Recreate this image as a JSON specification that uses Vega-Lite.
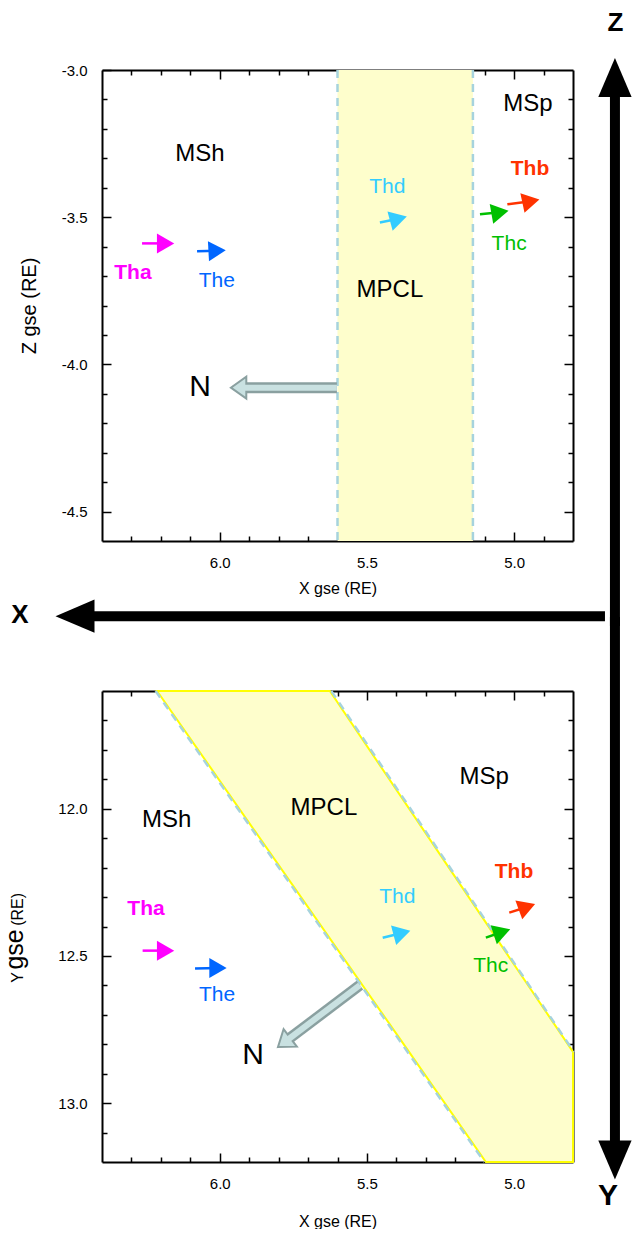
{
"$schema":"https://vega.github.io/schema/vega-lite/v6.json",
"background":"white",
"padding":{"left":3,"top":10,"right":0,"bottom":0},
"config":{"view":{"stroke":null},"font":"Liberation Sans","text":{"font":"Liberation Sans"},
 "axis":{"domainColor":"black","domainWidth":2,"tickColor":"black","tickWidth":1.5,"labelColor":"black","labelFont":"Liberation Sans","labelFontSize":15,"titleFont":"Liberation Sans","titleFontWeight":"normal","titleColor":"black","grid":false,"zindex":1}},
"datasets":{
 "bandTop":[{"x":5.6,"x2":5.14,"y":-3.0,"y2":-4.6}],
 "regionsTop":[{"x":6.067,"y":-3.286,"t":"MSh"},{"x":4.953,"y":-3.116,"t":"MSp"},{"x":5.422,"y":-3.749,"t":"MPCL"}],
 "nTop":[{"x":5.602,"y":-4.079,"x2":5.936,"y2":-4.079,"ang":180}],
 "nLabTop":[{"x":6.067,"y":-4.078,"t":"N"}],
 "scTop":[
  {"sc":"Tha","x":6.264,"y":-3.589,"x2":6.184,"y2":-3.589,"ang":0},
  {"sc":"The","x":6.077,"y":-3.616,"x2":6.009,"y2":-3.614,"ang":-3},
  {"sc":"Thd","x":5.456,"y":-3.518,"x2":5.393,"y2":-3.5055,"ang":-15},
  {"sc":"Thc","x":5.116,"y":-3.49,"x2":5.048,"y2":-3.4834,"ang":-10},
  {"sc":"Thb","x":5.023,"y":-3.456,"x2":4.943,"y2":-3.446,"ang":-12}],
 "scLabTop":[{"sc":"The","x":6.01,"y":-3.718,"t":"The"},{"sc":"Thd","x":5.431,"y":-3.397,"t":"Thd"},{"sc":"Thc","x":5.017,"y":-3.592,"t":"Thc"}],
 "scLabTopBold":[{"sc":"Tha","x":6.295,"y":-3.688,"t":"Tha"},{"sc":"Thb","x":4.946,"y":-3.335,"t":"Thb"}],
 "bigTop":[{"x":4.6575,"y":-3.0255,"x2":4.6575,"y2":-4.889},{"x":4.6914,"y":-4.8553,"x2":6.4917,"y2":-4.8553}],
 "bigHeadTop":[{"x":4.6575,"y":-3.0255,"dir":"up"},{"x":6.4917,"y":-4.8553,"dir":"left"}],
 "bigLabTop":[{"x":4.6558,"y":-2.8417,"t":"Z"},{"x":6.6785,"y":-4.852,"t":"X"}],
 "polyBot":[{"y":11.6,"x":6.213,"x2":5.626},{"y":12.826,"x":5.357,"x2":4.8},{"y":13.2,"x":5.096,"x2":4.8}],
 "edgesBot":[{"x":6.218,"y":11.6,"x2":5.101,"y2":13.2},{"x":5.621,"y":11.6,"x2":4.797,"y2":12.826}],
 "regionsBot":[{"x":6.18,"y":12.039,"t":"MSh"},{"x":5.1014,"y":11.892,"t":"MSp"},{"x":5.646,"y":11.996,"t":"MPCL"}],
 "nBot":[{"x":5.524,"y":12.599,"x2":5.7815,"y2":12.794,"ang":143}],
 "nLabBot":[{"x":5.887,"y":12.836,"t":"N"}],
 "scBot":[
  {"sc":"Tha","x":6.262,"y":12.482,"x2":6.184,"y2":12.482,"ang":0},
  {"sc":"The","x":6.084,"y":12.543,"x2":6.006,"y2":12.541,"ang":0},
  {"sc":"Thd","x":5.4465,"y":12.438,"x2":5.381,"y2":12.422,"ang":-15},
  {"sc":"Thc","x":5.096,"y":12.438,"x2":5.0413,"y2":12.4186,"ang":-18},
  {"sc":"Thb","x":5.0165,"y":12.353,"x2":4.9564,"y2":12.3337,"ang":-20}],
 "scLabBot":[{"sc":"The","x":6.009,"y":12.633,"t":"The"},{"sc":"Thd","x":5.397,"y":12.3,"t":"Thd"},{"sc":"Thc","x":5.0797,"y":12.534,"t":"Thc"}],
 "scLabBotBold":[{"sc":"Tha","x":6.2505,"y":12.3405,"t":"Tha"},{"sc":"Thb","x":5.0005,"y":12.215,"t":"Thb"}],
 "bigBot":[{"x":4.6575,"y":11.349,"x2":4.6575,"y2":13.193}],
 "bigHeadBot":[{"x":4.6575,"y":13.193,"dir":"down"}],
 "bigLabBot":[{"x":4.6813,"y":13.315,"t":"Y"}],
 "yTitleSmall":[{"x":6.6683,"y":12.5732,"t":"Y"},{"x":6.6683,"y":12.342,"t":"(RE)"}],
 "yTitleBig":[{"x":6.6683,"y":12.478,"t":"gse"}]
},
"spacing":150,
"bounds":"flush",
"vconcat":[
{
 "width":471,"height":471,
 "resolve":{"axis":{"x":"independent","y":"independent"}},
 "layer":[
  {"data":{"name":"bandTop"},"mark":{"type":"rect","color":"#fefecc"},
   "encoding":{
    "x":{"field":"x","type":"quantitative","scale":{"domain":[4.8,6.4],"reverse":true,"nice":false,"zero":false},
      "axis":{"orient":"bottom","values":[6.0,5.5,5.0],"format":".1f","tickSize":-9,"labelPadding":23,"title":"X gse (RE)","titleFontSize":16,"titlePadding":10}},
    "x2":{"field":"x2"},
    "y":{"field":"y","type":"quantitative","scale":{"domain":[-4.6,-3.0],"nice":false,"zero":false},
      "axis":{"orient":"left","values":[-3.0,-3.5,-4.0,-4.5],"labelExpr":"replace(format(datum.value,'.1f'),'−','-')","tickSize":-9,"labelPadding":24,"title":"Z gse (RE)","titleFontSize":20,"titlePadding":22}},
    "y2":{"field":"y2"}}},
  {"data":{"name":"bandTop"},"mark":{"type":"rule","color":"#a6d3dd","strokeWidth":2.5,"strokeDash":[8,6]},
   "encoding":{
    "x":{"field":"x","type":"quantitative","scale":{"domain":[4.8,6.4],"reverse":true,"nice":false,"zero":false},
      "axis":{"orient":"bottom","values":[6.3,6.2,6.1,5.9,5.8,5.7,5.6,5.4,5.3,5.2,5.1,4.9],"tickSize":-5,"labels":false,"domain":false,"title":null}},
    "y":{"field":"y","type":"quantitative","scale":{"domain":[-4.6,-3.0],"nice":false,"zero":false},
      "axis":{"orient":"left","values":[-3.1,-3.2,-3.3,-3.4,-3.6,-3.7,-3.8,-3.9,-4.1,-4.2,-4.3,-4.4],"tickSize":-5,"labels":false,"domain":false,"title":null}},
    "y2":{"field":"y2"}}},
  {"data":{"name":"bandTop"},"mark":{"type":"rule","color":"#a6d3dd","strokeWidth":2.5,"strokeDash":[8,6]},
   "encoding":{
    "x":{"field":"x2","type":"quantitative","scale":{"domain":[4.8,6.4],"reverse":true,"nice":false,"zero":false},
      "axis":{"orient":"top","values":[6.0,5.5,5.0],"tickSize":-9,"labels":false,"title":null}},
    "y":{"field":"y","type":"quantitative","scale":{"domain":[-4.6,-3.0],"nice":false,"zero":false},
      "axis":{"orient":"right","values":[-3.5,-4.0,-4.5],"tickSize":-9,"labels":false,"title":null}},
    "y2":{"field":"y2"}}},
  {"data":{"name":"regionsTop"},"mark":{"type":"text","fontSize":24,"color":"black","align":"center","baseline":"middle"},
   "encoding":{
    "x":{"field":"x","type":"quantitative","scale":{"domain":[4.8,6.4],"reverse":true,"nice":false,"zero":false},
      "axis":{"orient":"top","values":[6.3,6.2,6.1,5.9,5.8,5.7,5.6,5.4,5.3,5.2,5.1,4.9],"tickSize":-5,"labels":false,"domain":false,"title":null}},
    "y":{"field":"y","type":"quantitative","scale":{"domain":[-4.6,-3.0],"nice":false,"zero":false},
      "axis":{"orient":"right","values":[-3.1,-3.2,-3.3,-3.4,-3.6,-3.7,-3.8,-3.9,-4.1,-4.2,-4.3,-4.4],"tickSize":-5,"labels":false,"domain":false,"title":null}},
    "text":{"field":"t"}}},
  {"data":{"name":"nTop"},"mark":{"type":"rule","color":"#8aa0a0","strokeWidth":11},
   "encoding":{"x":{"field":"x","type":"quantitative","axis":null},"y":{"field":"y","type":"quantitative","axis":null},"x2":{"field":"x2"},"y2":{"field":"y2"}}},
  {"data":{"name":"nTop"},"mark":{"type":"point","shape":"M0.7,0L-0.7,-1L-0.7,1Z","size":484,"filled":true,"fill":"#c9e1e1","stroke":"#8aa0a0","strokeWidth":2,"opacity":1},
   "encoding":{"x":{"field":"x2","type":"quantitative","axis":null},"y":{"field":"y2","type":"quantitative","axis":null},"angle":{"field":"ang","type":"quantitative","scale":null}}},
  {"data":{"name":"nTop"},"mark":{"type":"rule","color":"#c9e1e1","strokeWidth":6},
   "encoding":{"x":{"field":"x","type":"quantitative","axis":null},"y":{"field":"y","type":"quantitative","axis":null},"x2":{"field":"x2"},"y2":{"field":"y2"}}},
  {"data":{"name":"nLabTop"},"mark":{"type":"text","fontSize":30,"color":"black","align":"center","baseline":"middle"},
   "encoding":{"x":{"field":"x","type":"quantitative","axis":null},"y":{"field":"y","type":"quantitative","axis":null},"text":{"field":"t"}}},
  {"data":{"name":"scTop"},"mark":{"type":"rule","strokeWidth":2.5},
   "encoding":{"x":{"field":"x","type":"quantitative","axis":null},"y":{"field":"y","type":"quantitative","axis":null},"x2":{"field":"x2"},"y2":{"field":"y2"},
    "color":{"field":"sc","type":"nominal","scale":{"domain":["Tha","Thb","Thc","Thd","The"],"range":["#ff00ff","#ff3300","#00c000","#33ccff","#0066ff"]},"legend":null}}},
  {"data":{"name":"scTop"},"mark":{"type":"point","shape":"triangle-right","size":400,"filled":true,"opacity":1},
   "encoding":{"x":{"field":"x2","type":"quantitative","axis":null},"y":{"field":"y2","type":"quantitative","axis":null},"angle":{"field":"ang","type":"quantitative","scale":null},
    "color":{"field":"sc","type":"nominal","scale":{"domain":["Tha","Thb","Thc","Thd","The"],"range":["#ff00ff","#ff3300","#00c000","#33ccff","#0066ff"]},"legend":null}}},
  {"data":{"name":"scLabTop"},"mark":{"type":"text","fontSize":21,"align":"center","baseline":"middle"},
   "encoding":{"x":{"field":"x","type":"quantitative","axis":null},"y":{"field":"y","type":"quantitative","axis":null},"text":{"field":"t"},
    "color":{"field":"sc","type":"nominal","scale":{"domain":["Tha","Thb","Thc","Thd","The"],"range":["#ff00ff","#ff3300","#00c000","#33ccff","#0066ff"]},"legend":null}}},
  {"data":{"name":"scLabTopBold"},"mark":{"type":"text","fontSize":21,"fontWeight":"bold","align":"center","baseline":"middle"},
   "encoding":{"x":{"field":"x","type":"quantitative","axis":null},"y":{"field":"y","type":"quantitative","axis":null},"text":{"field":"t"},
    "color":{"field":"sc","type":"nominal","scale":{"domain":["Tha","Thb","Thc","Thd","The"],"range":["#ff00ff","#ff3300","#00c000","#33ccff","#0066ff"]},"legend":null}}},
  {"data":{"name":"bigTop"},"mark":{"type":"rule","color":"black","strokeWidth":10},
   "encoding":{"x":{"field":"x","type":"quantitative","axis":null},"y":{"field":"y","type":"quantitative","axis":null},"x2":{"field":"x2"},"y2":{"field":"y2"}}},
  {"data":{"name":"bigHeadTop"},"mark":{"type":"point","filled":true,"size":1521,"color":"black","opacity":1},
   "encoding":{"x":{"field":"x","type":"quantitative","axis":null},"y":{"field":"y","type":"quantitative","axis":null},
    "shape":{"field":"dir","type":"nominal","scale":{"domain":["up","down","left"],"range":["M0,-1L0.854,1L-0.854,1Z","M0,1L0.854,-1L-0.854,-1Z","M-1,0L1,-0.854L1,0.854Z"]},"legend":null}}},
  {"data":{"name":"bigLabTop"},"mark":{"type":"text","fontSize":26,"fontWeight":"bold","color":"black","align":"center","baseline":"middle"},
   "encoding":{"x":{"field":"x","type":"quantitative","axis":null},"y":{"field":"y","type":"quantitative","axis":null},"text":{"field":"t"}}}
 ]
},
{
 "width":471,"height":471,
 "resolve":{"axis":{"x":"independent","y":"independent"}},
 "layer":[
  {"data":{"name":"polyBot"},"mark":{"type":"area","orient":"horizontal","color":"#fefecc","stroke":"#ffff00","strokeWidth":2},
   "encoding":{
    "x":{"field":"x","type":"quantitative","scale":{"domain":[4.8,6.4],"reverse":true,"nice":false,"zero":false},
      "axis":{"orient":"bottom","values":[6.0,5.5,5.0],"format":".1f","tickSize":-9,"labelPadding":23,"title":"X gse (RE)","titleFontSize":16,"titlePadding":22}},
    "x2":{"field":"x2"},
    "y":{"field":"y","type":"quantitative","scale":{"domain":[11.6,13.2],"reverse":true,"nice":false,"zero":false},
      "axis":{"orient":"left","values":[12.0,12.5,13.0],"format":".1f","tickSize":-9,"labelPadding":24,"title":null}}}},
  {"data":{"name":"edgesBot"},"mark":{"type":"rule","color":"#a6d3dd","strokeWidth":2.5,"strokeDash":[8,6]},
   "encoding":{
    "x":{"field":"x","type":"quantitative","scale":{"domain":[4.8,6.4],"reverse":true,"nice":false,"zero":false},
      "axis":{"orient":"bottom","values":[6.3,6.2,6.1,5.9,5.8,5.7,5.6,5.4,5.3,5.2,5.1,4.9],"tickSize":-5,"labels":false,"domain":false,"title":null}},
    "y":{"field":"y","type":"quantitative","scale":{"domain":[11.6,13.2],"reverse":true,"nice":false,"zero":false},
      "axis":{"orient":"left","values":[11.7,11.8,11.9,12.1,12.2,12.3,12.4,12.6,12.7,12.8,12.9,13.1],"tickSize":-5,"labels":false,"domain":false,"title":null}},
    "x2":{"field":"x2"},"y2":{"field":"y2"}}},
  {"data":{"name":"regionsBot"},"mark":{"type":"text","fontSize":24,"color":"black","align":"center","baseline":"middle"},
   "encoding":{
    "x":{"field":"x","type":"quantitative","scale":{"domain":[4.8,6.4],"reverse":true,"nice":false,"zero":false},
      "axis":{"orient":"top","values":[6.0,5.5,5.0],"tickSize":-9,"labels":false,"title":null}},
    "y":{"field":"y","type":"quantitative","scale":{"domain":[11.6,13.2],"reverse":true,"nice":false,"zero":false},
      "axis":{"orient":"right","values":[12.0,12.5,13.0],"tickSize":-9,"labels":false,"title":null}},
    "text":{"field":"t"}}},
  {"data":{"name":"scBot"},"mark":{"type":"rule","strokeWidth":2.5},
   "encoding":{
    "x":{"field":"x","type":"quantitative","scale":{"domain":[4.8,6.4],"reverse":true,"nice":false,"zero":false},
      "axis":{"orient":"top","values":[6.3,6.2,6.1,5.9,5.8,5.7,5.6,5.4,5.3,5.2,5.1,4.9],"tickSize":-5,"labels":false,"domain":false,"title":null}},
    "y":{"field":"y","type":"quantitative","scale":{"domain":[11.6,13.2],"reverse":true,"nice":false,"zero":false},
      "axis":{"orient":"right","values":[11.7,11.8,11.9,12.1,12.2,12.3,12.4,12.6,12.7,12.8,12.9,13.1],"tickSize":-5,"labels":false,"domain":false,"title":null}},
    "x2":{"field":"x2"},"y2":{"field":"y2"},
    "color":{"field":"sc","type":"nominal","scale":{"domain":["Tha","Thb","Thc","Thd","The"],"range":["#ff00ff","#ff3300","#00c000","#33ccff","#0066ff"]},"legend":null}}},
  {"data":{"name":"scBot"},"mark":{"type":"point","shape":"triangle-right","size":400,"filled":true,"opacity":1},
   "encoding":{"x":{"field":"x2","type":"quantitative","axis":null},"y":{"field":"y2","type":"quantitative","axis":null},"angle":{"field":"ang","type":"quantitative","scale":null},
    "color":{"field":"sc","type":"nominal","scale":{"domain":["Tha","Thb","Thc","Thd","The"],"range":["#ff00ff","#ff3300","#00c000","#33ccff","#0066ff"]},"legend":null}}},
  {"data":{"name":"scLabBot"},"mark":{"type":"text","fontSize":21,"align":"center","baseline":"middle"},
   "encoding":{"x":{"field":"x","type":"quantitative","axis":null},"y":{"field":"y","type":"quantitative","axis":null},"text":{"field":"t"},
    "color":{"field":"sc","type":"nominal","scale":{"domain":["Tha","Thb","Thc","Thd","The"],"range":["#ff00ff","#ff3300","#00c000","#33ccff","#0066ff"]},"legend":null}}},
  {"data":{"name":"scLabBotBold"},"mark":{"type":"text","fontSize":21,"fontWeight":"bold","align":"center","baseline":"middle"},
   "encoding":{"x":{"field":"x","type":"quantitative","axis":null},"y":{"field":"y","type":"quantitative","axis":null},"text":{"field":"t"},
    "color":{"field":"sc","type":"nominal","scale":{"domain":["Tha","Thb","Thc","Thd","The"],"range":["#ff00ff","#ff3300","#00c000","#33ccff","#0066ff"]},"legend":null}}},
  {"data":{"name":"nBot"},"mark":{"type":"rule","color":"#8aa0a0","strokeWidth":11},
   "encoding":{"x":{"field":"x","type":"quantitative","axis":null},"y":{"field":"y","type":"quantitative","axis":null},"x2":{"field":"x2"},"y2":{"field":"y2"}}},
  {"data":{"name":"nBot"},"mark":{"type":"point","shape":"M0.7,0L-0.7,-1L-0.7,1Z","size":484,"filled":true,"fill":"#c9e1e1","stroke":"#8aa0a0","strokeWidth":2,"opacity":1},
   "encoding":{"x":{"field":"x2","type":"quantitative","axis":null},"y":{"field":"y2","type":"quantitative","axis":null},"angle":{"field":"ang","type":"quantitative","scale":null}}},
  {"data":{"name":"nBot"},"mark":{"type":"rule","color":"#c9e1e1","strokeWidth":6},
   "encoding":{"x":{"field":"x","type":"quantitative","axis":null},"y":{"field":"y","type":"quantitative","axis":null},"x2":{"field":"x2"},"y2":{"field":"y2"}}},
  {"data":{"name":"nLabBot"},"mark":{"type":"text","fontSize":30,"color":"black","align":"center","baseline":"middle"},
   "encoding":{"x":{"field":"x","type":"quantitative","axis":null},"y":{"field":"y","type":"quantitative","axis":null},"text":{"field":"t"}}},
  {"data":{"name":"bigBot"},"mark":{"type":"rule","color":"black","strokeWidth":10},
   "encoding":{"x":{"field":"x","type":"quantitative","axis":null},"y":{"field":"y","type":"quantitative","axis":null},"x2":{"field":"x2"},"y2":{"field":"y2"}}},
  {"data":{"name":"bigHeadBot"},"mark":{"type":"point","filled":true,"size":1521,"color":"black","opacity":1},
   "encoding":{"x":{"field":"x","type":"quantitative","axis":null},"y":{"field":"y","type":"quantitative","axis":null},
    "shape":{"field":"dir","type":"nominal","scale":{"domain":["up","down","left"],"range":["M0,-1L0.854,1L-0.854,1Z","M0,1L0.854,-1L-0.854,-1Z","M-1,0L1,-0.854L1,0.854Z"]},"legend":null}}},
  {"data":{"name":"bigLabBot"},"mark":{"type":"text","fontSize":30,"fontWeight":"bold","color":"black","align":"center","baseline":"middle"},
   "encoding":{"x":{"field":"x","type":"quantitative","axis":null},"y":{"field":"y","type":"quantitative","axis":null},"text":{"field":"t"}}},
  {"data":{"name":"yTitleSmall"},"mark":{"type":"text","fontSize":16,"color":"black","align":"center","baseline":"alphabetic","angle":270},
   "encoding":{"x":{"field":"x","type":"quantitative","axis":null},"y":{"field":"y","type":"quantitative","axis":null},"text":{"field":"t"}}},
  {"data":{"name":"yTitleBig"},"mark":{"type":"text","fontSize":25,"color":"black","align":"center","baseline":"alphabetic","angle":270},
   "encoding":{"x":{"field":"x","type":"quantitative","axis":null},"y":{"field":"y","type":"quantitative","axis":null},"text":{"field":"t"}}}
 ]
}
]
}
